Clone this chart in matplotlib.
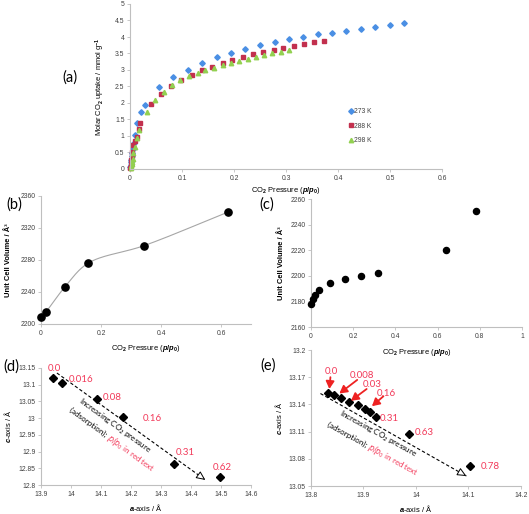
import numpy as np
import matplotlib
matplotlib.use("Agg")
import matplotlib.pyplot as plt
from matplotlib.ticker import FuncFormatter

plt.rcParams["font.family"] = ["Liberation Sans", "DejaVu Sans"]
plt.rcParams["mathtext.fontset"] = "custom"
plt.rcParams["mathtext.rm"] = "Liberation Sans:bold"
plt.rcParams["mathtext.it"] = "Liberation Sans:italic:bold"
plt.rcParams["mathtext.bf"] = "Liberation Sans:bold"
plt.rcParams["mathtext.default"] = "rm"

W, H = 529, 514
RED_TXT = "#f23a5a"
RED_ARW = "#ee2222"
GREY = "#bfbfbf"

# ---------------- (a) CO2 isotherms ----------------
p_273 = [0.0005, 0.001, 0.0015, 0.002, 0.003, 0.0045, 0.006, 0.0075, 0.0096, 0.014,
         0.0218, 0.028, 0.056, 0.083, 0.111, 0.139, 0.167, 0.194, 0.222, 0.25, 0.278,
         0.306, 0.333, 0.361, 0.388, 0.416, 0.444, 0.472, 0.5, 0.527]
q_273 = [0.05, 0.12, 0.2, 0.28, 0.38, 0.48, 0.62, 0.78, 1.02, 1.38,
         1.72, 1.94, 2.48, 2.78, 3.01, 3.21, 3.38, 3.53, 3.64, 3.75, 3.86,
         3.93, 4.0, 4.08, 4.11, 4.18, 4.23, 4.30, 4.36, 4.43]
p_288 = [0.0005, 0.001, 0.002, 0.003, 0.004, 0.0064, 0.0096, 0.013, 0.017, 0.019,
         0.04, 0.06, 0.079, 0.099, 0.119, 0.138, 0.158, 0.178, 0.197, 0.217, 0.236,
         0.256, 0.276, 0.295, 0.315, 0.334, 0.354, 0.373]
q_288 = [0.04, 0.12, 0.27, 0.4, 0.52, 0.73, 0.85, 0.98, 1.22, 1.4,
         1.96, 2.27, 2.5, 2.7, 2.85, 2.99, 3.1, 3.2, 3.3, 3.4, 3.47,
         3.55, 3.61, 3.68, 3.74, 3.79, 3.84, 3.88]
p_298 = [0.001, 0.002, 0.003, 0.004, 0.005, 0.0064, 0.0096, 0.014, 0.018, 0.032,
         0.049, 0.065, 0.081, 0.097, 0.114, 0.13, 0.145, 0.162, 0.178, 0.194, 0.21,
         0.226, 0.242, 0.258, 0.274, 0.29, 0.306]
q_298 = [0.03, 0.08, 0.15, 0.22, 0.3, 0.48, 0.68, 0.94, 1.18, 1.72,
         2.08, 2.33, 2.55, 2.7, 2.82, 2.9, 2.99, 3.05, 3.15, 3.21, 3.28,
         3.34, 3.39, 3.45, 3.5, 3.55, 3.6]

# ---------------- (b)/(d) first structure ----------------
p_b = [0.0, 0.016, 0.079, 0.157, 0.344, 0.624]
vol_b = [2209, 2215, 2246, 2276, 2298, 2340]
a_d = [13.94, 13.97, 14.088, 14.174, 14.342, 14.498]
c_d = [13.120, 13.105, 13.057, 13.003, 12.862, 12.825]
lab_d = ["0.0", "0.016", "0.08", "0.16", "0.31", "0.62"]
labpos_d = [(13.944, 13.15), (14.033, 13.117), (14.137, 13.063),
            (14.27, 13.0), (14.381, 12.897), (14.503, 12.852)]

# ---------------- (c)/(e) second structure ----------------
p_c = [0.0, 0.009, 0.017, 0.038, 0.088, 0.162, 0.238, 0.317, 0.638, 0.781]
vol_c = [2178, 2182, 2185, 2189, 2194, 2197.5, 2200, 2202.5, 2220, 2251]
a_e = [13.832, 13.844, 13.857, 13.872, 13.889, 13.903, 13.913, 13.924, 13.987, 14.103]
c_e = [13.153, 13.150, 13.147, 13.143, 13.139, 13.135, 13.132, 13.126, 13.107, 13.072]
lab_e = ["0.0", "0.008", "0.03", "0.16", "0.31", "0.63", "0.78"]
labpos_e = [(13.838, 13.176), (13.897, 13.172), (13.916, 13.162), (13.944, 13.152),
            (13.95, 13.125), (14.015, 13.109), (14.141, 13.071)]


def px_axes(fig, x0, y0, x1, y1):
    ax = fig.add_axes([x0 / W, 1 - y1 / H, (x1 - x0) / W, (y1 - y0) / H])
    ax.patch.set_visible(False)
    return ax


def fmt(v, pos):
    return f"{round(v, 4):g}"


def style(ax, xlim, ylim, xticks, yticks):
    for s in ("top", "right"):
        ax.spines[s].set_visible(False)
    for s in ("left", "bottom"):
        ax.spines[s].set_color(GREY)
        ax.spines[s].set_linewidth(0.8)
    ax.set_xlim(*xlim)
    ax.set_ylim(*ylim)
    ax.set_xticks(xticks)
    ax.set_yticks(yticks)
    ax.xaxis.set_major_formatter(FuncFormatter(fmt))
    ax.yaxis.set_major_formatter(FuncFormatter(fmt))
    ax.tick_params(length=2, width=0.6, color=GREY, labelsize=4.9,
                   labelcolor="#404040", pad=2)


def smooth(x, y, sx, sy, n=30, alpha=0.5):
    # smoothed connecting line (centripetal Catmull-Rom through the points)
    P = np.column_stack([np.asarray(x) / sx, np.asarray(y) / sy])
    P = np.vstack([2 * P[0] - P[1], P, 2 * P[-1] - P[-2]])
    out = []
    for i in range(1, len(P) - 2):
        p0, p1, p2, p3 = P[i - 1], P[i], P[i + 1], P[i + 2]
        t0 = 0.0
        t1 = t0 + np.linalg.norm(p1 - p0) ** alpha
        t2 = t1 + np.linalg.norm(p2 - p1) ** alpha
        t3 = t2 + np.linalg.norm(p3 - p2) ** alpha
        t = np.linspace(t1, t2, n)[:, None]
        A1 = (t1 - t) / (t1 - t0) * p0 + (t - t0) / (t1 - t0) * p1
        A2 = (t2 - t) / (t2 - t1) * p1 + (t - t1) / (t2 - t1) * p2
        A3 = (t3 - t) / (t3 - t2) * p2 + (t - t2) / (t3 - t2) * p3
        B1 = (t2 - t) / (t2 - t0) * A1 + (t - t0) / (t2 - t0) * A2
        B2 = (t3 - t) / (t3 - t1) * A2 + (t - t1) / (t3 - t1) * A3
        out.append((t2 - t) / (t2 - t1) * B1 + (t - t1) / (t2 - t1) * B2)
    out = np.vstack(out)
    return out[:, 0] * sx, out[:, 1] * sy


def dashed_arrow(ax, start, end):
    ax.plot([start[0], end[0]], [start[1], end[1]], ls=(0, (3, 2)), lw=0.8, color="black")
    back = (end[0] - 0.03 * (end[0] - start[0]), end[1] - 0.03 * (end[1] - start[1]))
    ax.annotate("", xy=end, xytext=back,
                arrowprops=dict(arrowstyle="-|>,head_length=0.55,head_width=0.25",
                                lw=0.7, ec="black", fc="white", shrinkA=0, shrinkB=0))


def rotated_lines(ax, fig, center1, center2, angle, fs):
    fam = ["Lato", "DejaVu Sans"]
    ax.text(center1[0], center1[1], r"Increasing CO$_2$ pressure", rotation=angle,
            rotation_mode="anchor", ha="center", va="center", fontsize=fs,
            family=fam, math_fontfamily="dejavusans")
    parts = [("(adsorption); ", "black"), (r"$\mathit{p/p}_0$ in red text", RED_TXT)]
    r = fig.canvas.get_renderer()
    widths = []
    for s, c in parts:
        tmp = fig.text(0, 0, s, fontsize=fs, family=fam, math_fontfamily="dejavusans")
        widths.append(tmp.get_window_extent(r).width * 72 / fig.dpi)
        tmp.remove()
    total = sum(widths)
    ca, sa = np.cos(np.radians(angle)), np.sin(np.radians(angle))
    off = -total / 2
    for (s, c), w in zip(parts, widths):
        ax.annotate(s, center2, xytext=(off * ca, off * sa), textcoords="offset points",
                    rotation=angle, rotation_mode="anchor", ha="left", va="center",
                    fontsize=fs, color=c, family=fam, math_fontfamily="dejavusans")
        off += w


fig = plt.figure(figsize=(W / 100, H / 100), dpi=100)
xlab_p = r"CO$_2$ Pressure ($\mathit{p/p}$$_0$)"
lab_fs = 5.4

# (a)
ax = px_axes(fig, 130, 4, 442, 169)
style(ax, (0, 0.6), (0, 5), np.arange(0, 0.61, 0.1), np.arange(0, 5.01, 0.5))
ax.plot(p_273, q_273, "D", ms=2.8, color="#4a8fe4", mec="#4a8fe4", label="273 K", clip_on=False)
ax.plot(p_288, q_288, "s", ms=3.2, color="#c2304e", mec="#c2304e", label="288 K", clip_on=False)
ax.plot(p_298, q_298, "^", ms=3.2, color="#92d050", mec="#92d050", label="298 K", clip_on=False)
ax.set_xlabel(xlab_p, fontsize=lab_fs, labelpad=2.5)
ax.set_ylabel(r"Molar CO$_2$ uptake / mmol g$^{-1}$", fontsize=lab_fs, labelpad=6)
ax.legend(loc="upper left", bbox_to_anchor=(0.69, 0.39), frameon=False, fontsize=4.9,
          handlelength=0.6, handletextpad=0.2, labelspacing=1.1, borderpad=0,
          labelcolor="#404040")

# (b)
ax = px_axes(fig, 41, 196, 251, 324)
style(ax, (0, 0.7), (2200, 2360), [0, 0.2, 0.4, 0.6], np.arange(2200, 2361, 40))
sx, sy = smooth(p_b, vol_b, 0.7 / 210, 160 / 128)
ax.plot(sx, sy, color="#a6a6a6", lw=0.8)
ax.plot(p_b, vol_b, "o", ms=5.2, color="black", clip_on=False, zorder=3)
ax.set_xlabel(xlab_p, fontsize=lab_fs, labelpad=5)
ax.set_ylabel("Unit Cell Volume / Å³", fontsize=lab_fs, fontweight="bold", labelpad=6)

# (c)
ax = px_axes(fig, 311, 199, 522, 327)
style(ax, (0, 1), (2160, 2260), np.arange(0, 1.01, 0.2), np.arange(2160, 2261, 20))
ax.plot(p_c, vol_c, "o", ms=4.4, color="black", clip_on=False, zorder=3)
ax.set_xlabel(xlab_p, fontsize=lab_fs, labelpad=5)
ax.set_ylabel("Unit Cell Volume / Å³", fontsize=lab_fs, fontweight="bold", labelpad=4)

# (d)
ax = px_axes(fig, 41, 368, 251, 485)
style(ax, (13.9, 14.6), (12.8, 13.15), np.arange(13.9, 14.61, 0.1), np.arange(12.8, 13.151, 0.05))
ax.plot(a_d, c_d, "D", ms=3.6, color="black", clip_on=False, zorder=3)
for s, (x, y) in zip(lab_d, labpos_d):
    ax.text(x, y, s, color=RED_TXT, fontsize=7, family=["Lato", "DejaVu Sans"],
            ha="center", va="center")
dashed_arrow(ax, (13.953, 13.135), (14.448, 12.815))
rotated_lines(ax, fig, (14.145, 12.978), (14.136, 12.937), -36, 5.8)
ax.set_xlabel(r"$\mathit{a}$-axis / Å", fontsize=lab_fs, labelpad=3)
ax.set_ylabel(r"$\mathit{c}$-axis / Å", fontsize=lab_fs, labelpad=4)

# (e)
ax = px_axes(fig, 311, 350, 521, 486)
style(ax, (13.8, 14.2), (13.05, 13.2), np.arange(13.8, 14.21, 0.1), np.arange(13.05, 13.201, 0.03))
ax.plot(a_e, c_e, "D", ms=3.6, color="black", clip_on=False, zorder=3)
for s, (x, y) in zip(lab_e, labpos_e):
    ax.text(x, y, s, color=RED_TXT, fontsize=7, family=["Lato", "DejaVu Sans"],
            ha="center", va="center")
for tail, head in [((13.837, 13.170), (13.835, 13.157)),
                   ((13.888, 13.167), (13.854, 13.152)),
                   ((13.906, 13.157), (13.876, 13.144)),
                   ((13.938, 13.149), (13.916, 13.138))]:
    ax.annotate("", xy=head, xytext=tail,
                arrowprops=dict(arrowstyle="-|>,head_length=0.45,head_width=0.25",
                                lw=1.3, color=RED_ARW, shrinkA=0, shrinkB=0))
dashed_arrow(ax, (13.818, 13.152), (14.096, 13.061))
rotated_lines(ax, fig, (13.928, 13.107), (13.918, 13.091), -29, 5.8)
ax.set_xlabel(r"$\mathit{a}$-axis / Å", fontsize=lab_fs, labelpad=3)
ax.set_ylabel(r"$\mathit{c}$-axis / Å", fontsize=lab_fs, labelpad=3)

# panel letters
for s, (x, y) in {"(a)": (70, 78), "(b)": (14, 205), "(c)": (267, 205),
                  "(d)": (11, 367), "(e)": (268, 366)}.items():
    fig.text(x / W, 1 - y / H, s, fontsize=10.5, family=["Lato", "DejaVu Sans"],
             ha="center", va="center")

plt.savefig("out.png", dpi=100)
